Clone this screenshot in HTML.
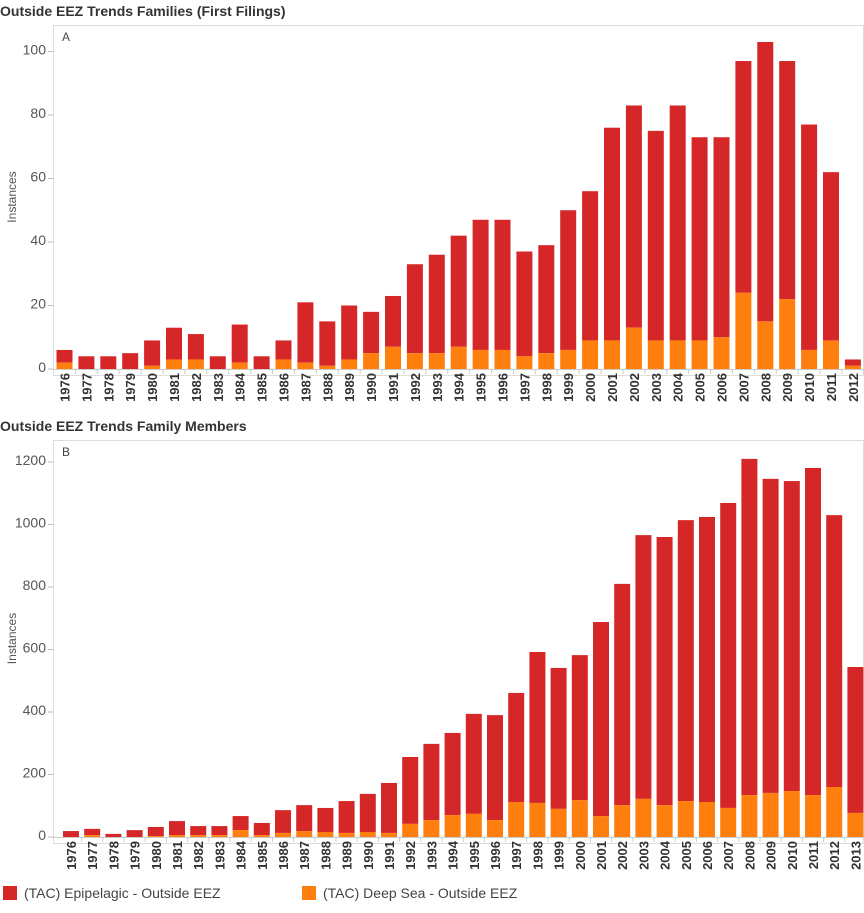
<!DOCTYPE html>
<html><head><meta charset="utf-8"><style>
body{margin:0;background:#fff;font-family:"Liberation Sans",sans-serif;}
svg text{font-family:"Liberation Sans",sans-serif;}
</style></head><body>
<svg id="c" width="864" height="908"></svg>
<script>
const yearsA=[1976,1977,1978,1979,1980,1981,1982,1983,1984,1985,1986,1987,1988,1989,1990,1991,1992,1993,1994,1995,1996,1997,1998,1999,2000,2001,2002,2003,2004,2005,2006,2007,2008,2009,2010,2011,2012];
const totalA=[6,4,4,5,9,13,11,4,14,4,9,21,15,20,18,23,33,36,42,47,47,37,39,50,56,76,83,75,83,73,73,97,103,97,77,62,3];
const deepA=[2,0,0,0,1,3,3,0,2,0,3,2,1,3,5,7,5,5,7,6,6,4,5,6,9,9,13,9,9,9,10,24,15,22,6,9,1];
const ticksA=[0,20,40,60,80,100];
const yearsB=[1976,1977,1978,1979,1980,1981,1982,1983,1984,1985,1986,1987,1988,1989,1990,1991,1992,1993,1994,1995,1996,1997,1998,1999,2000,2001,2002,2003,2004,2005,2006,2007,2008,2009,2010,2011,2012,2013];
const totalB=[19,26,10,22,32,51,35,35,67,45,86,102,93,115,138,173,256,298,333,394,390,461,592,541,582,688,810,966,960,1014,1024,1069,1210,1146,1139,1181,1030,544];
const deepB=[0,6,0,0,3,6,6,6,22,6,13,19,16,13,16,13,42,54,70,74,54,112,109,90,118,67,102,122,102,115,112,93,134,141,147,134,160,77];
const ticksB=[0,200,400,600,800,1000,1200];
const RED="#d62728",ORA="#ff7f0e";
const svg=document.getElementById('c');
const NS="http://www.w3.org/2000/svg";
function mk(t,a,p){const e=document.createElementNS(NS,t);for(const k in a)e.setAttribute(k,a[k]);(p||svg).appendChild(e);return e;}
function chart(cfg){
  const g=mk('g',{});
  
  
  const tt=mk('text',{x:0,y:cfg.titleY,'font-size':14,'font-weight':'bold',fill:'#333'},g);tt.textContent=cfg.title;
  
  
  mk('rect',{x:53.5,y:cfg.top+.5,width:810,height:cfg.base-cfg.top+6,fill:'none',stroke:'#ddd'},g);
  const pl=mk('text',{x:62,y:cfg.top+16,'font-size':12,fill:'#444'},g);pl.textContent=cfg.panel;
  
  
  const yv=v=>cfg.base-v*cfg.scale;
  const xc=i=>cfg.x0+i*cfg.pitch;
  cfg.ticks.forEach(t=>{
    mk('line',{x1:48,x2:53,y1:yv(t),y2:yv(t),stroke:'#bbb'},g);
    const l=mk('text',{x:46,y:yv(t)+3,'font-size':14,fill:'#555','text-anchor':'end'},g);l.textContent=t;
    
    
  });
  const ya=mk('text',{transform:`translate(16,${(cfg.top+cfg.base)/2}) rotate(-90)`,'font-size':12,fill:'#555','text-anchor':'middle'},g);ya.textContent='Instances';
  
  
  mk('line',{x1:53,x2:864,y1:cfg.base+.5,y2:cfg.base+.5,stroke:'#ccc'},g);
  cfg.years.forEach((yr,i)=>{
    const x=xc(i),w=16;
    const r=mk('rect',{x:x-w/2,y:yv(cfg.total[i]),width:w,height:(cfg.total[i]-cfg.deep[i])*cfg.scale,fill:RED},g);
    
    
    const o=mk('rect',{x:x-w/2,y:yv(cfg.deep[i]),width:w,height:cfg.deep[i]*cfg.scale,fill:ORA},g);
    
    
    mk('line',{x1:x+cfg.pitch/2,x2:x+cfg.pitch/2,y1:cfg.base,y2:cfg.base+5,stroke:'#ccc'},g);
    const l=mk('text',{transform:`translate(${x+5},${cfg.base+4}) rotate(-90)`,'font-size':13,'font-weight':'bold',fill:'#333','text-anchor':'end'},g);l.textContent=yr;
    
    
  });
}
chart({name:'chart-a',title:'Outside EEZ Trends Families (First Filings)',titleY:16,panel:'A',top:25,base:369,scale:3.175,x0:64.5,pitch:21.9,years:yearsA,total:totalA,deep:deepA,ticks:ticksA});
chart({name:'chart-b',title:'Outside EEZ Trends Family Members',titleY:431,panel:'B',top:440,base:837,scale:0.3125,x0:71,pitch:21.2,years:yearsB,total:totalB,deep:deepB,ticks:ticksB});
const lg=mk('g',{});


[[RED,'(TAC) Epipelagic - Outside EEZ',3],[ORA,'(TAC) Deep Sea - Outside EEZ',302]].forEach(([c,t,x])=>{
  const s=mk('rect',{x:x,y:886,width:14,height:14,fill:c},lg);
  
  
  const l=mk('text',{x:x+21,y:898,'font-size':14,fill:'#444'},lg);l.textContent=t;
  
  
});
</script>
</body></html>
